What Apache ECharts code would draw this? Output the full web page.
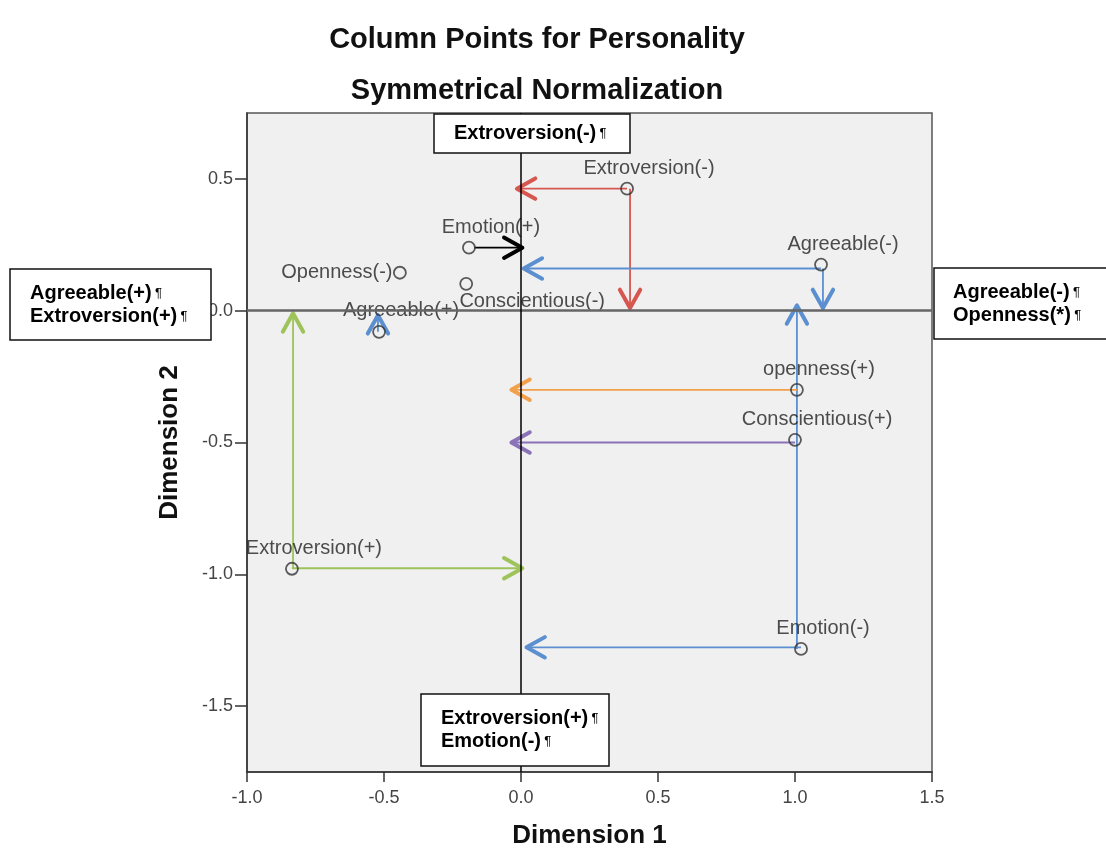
<!DOCTYPE html>
<html><head><meta charset="utf-8">
<script src="https://cdn.jsdelivr.net/npm/echarts@6/dist/echarts.min.js"></script>
<style>html,body{margin:0;padding:0;background:#fff}#c{width:1106px;height:860px}</style>
</head><body><div id="c"></div>
<script>
// ---- data ----
const pointNames = ['Extroversion(-)','Emotion(+)','Openness(-)','Conscientious(-)','Agreeable(+)','Agreeable(-)','openness(+)','Conscientious(+)','Extroversion(+)','Emotion(-)'];
const dim1 = [0.387, -0.19, -0.442, -0.20, -0.518, 1.095, 1.007, 1.0, -0.836, 1.022];
const dim2 = [0.463, 0.239, 0.144, 0.102, -0.08, 0.175, -0.30, -0.49, -0.979, -1.283];
const yTickValues = [-1.5, -1.0, -0.5, 0, 0.5];
// arrows: start (x1,y1) -> tip (x2,y2)
const arrowX1 = [0.387, 0.398, -0.17, 1.095, 1.102, 1.007, 1.022, 1.007, 1.0, -0.836, -0.832, -0.522];
const arrowY1 = [0.463, 0.463, 0.239, 0.16, 0.16, -1.283, -1.277, -0.30, -0.50, -0.977, -0.977, -0.08];
const arrowX2 = [-0.015, 0.398, 0.005, 0.01, 1.102, 1.007, 0.02, -0.035, -0.035, 0.005, -0.832, -0.522];
const arrowY2 = [0.463, 0.01, 0.239, 0.16, 0.01, 0.02, -1.277, -0.30, -0.50, -0.977, -0.01, -0.017];
const arrowColors = ['#d5574f','#d5574f','#000000','#5b8fd0','#5b8fd0','#5b8fd0','#5b8fd0','#f3a04c','#8a72b6','#9ec35a','#9ec35a','#5b8fd0'];

// ---- layout / style ----
const FONT = "'Liberation Sans', Arial, sans-serif";
const labelOffsets = { 'Openness(-)': [-63, 0], 'Conscientious(-)': [66, 18], 'Agreeable(+)': [22, -21] };
const defaultOffset = [22, -20];

const chart = echarts.init(document.getElementById('c'));

const scatterData = pointNames.map((n, i) => ({
  name: n, value: [dim1[i], dim2[i]],
  label: { offset: labelOffsets[n] || defaultOffset }
}));
const arrowData = arrowX1.map((_, i) => [arrowX1[i], arrowY1[i], arrowX2[i], arrowY2[i], i]);

function boxText(lines) {
  return lines.map(t => '{b|' + t + '} {p|¶}').join('\n');
}
const richStyle = {
  b: { fontFamily: FONT, fontWeight: 'bold', fontSize: 20, color: '#111', lineHeight: 23 },
  p: { fontFamily: FONT, fontSize: 13, color: '#4a8fe0', lineHeight: 23 }
};
function box(x, y, w, h, lines, tx) {
  return {
    type: 'group', x: x, y: y, z: 100,
    children: [
      { type: 'rect', shape: { x: 0, y: 0, width: w, height: h }, style: { fill: '#fff', stroke: '#111', lineWidth: 1.5 }, z: 100 },
      { type: 'text', x: tx, y: h / 2, z: 101, style: { text: boxText(lines), rich: richStyle, verticalAlign: 'middle', align: 'left' } }
    ]
  };
}

const option = {
  backgroundColor: '#ffffff',
  animation: false,
  grid: { left: 247, right: 174, top: 113, bottom: 88, show: true, backgroundColor: '#f0f0f0', borderColor: '#555', borderWidth: 1.5, outerBoundsMode: 'none' },
  xAxis: {
    type: 'value', min: -1, max: 1.5, interval: 0.5,
    name: 'Dimension 1', nameLocation: 'middle', nameGap: 51,
    nameTextStyle: { fontFamily: FONT, fontWeight: 'bold', fontSize: 26, color: '#111' },
    axisLine: { show: true, onZero: false, lineStyle: { color: '#333', width: 1.5 } },
    axisTick: { show: true, length: 10, lineStyle: { color: '#333', width: 1.5 } },
    axisLabel: { fontFamily: FONT, fontSize: 18, color: '#444', margin: 17, formatter: v => v.toFixed(1) },
    splitLine: { show: false }
  },
  yAxis: {
    type: 'value', min: -1.75, max: 0.75,
    name: 'Dimension 2', nameLocation: 'middle', nameGap: 64, nameRotate: 90,
    nameTextStyle: { fontFamily: FONT, fontWeight: 'bold', fontSize: 26, color: '#111' },
    axisLine: { show: true, onZero: false, lineStyle: { color: '#333', width: 1.5 } },
    axisTick: { show: true, length: 12, customValues: yTickValues, lineStyle: { color: '#333', width: 1.5 } },
    axisLabel: { fontFamily: FONT, fontSize: 18, color: '#444', margin: 14, customValues: yTickValues, formatter: v => v.toFixed(1) },
    splitLine: { show: false }
  },
  graphic: [
    { type: 'text', x: 537, y: 40, z: 100, style: { text: 'Column Points for Personality', fontFamily: FONT, fontWeight: 'bold', fontSize: 29, fill: '#111', align: 'center', verticalAlign: 'middle' } },
    { type: 'text', x: 537, y: 91, z: 100, style: { text: 'Symmetrical Normalization', fontFamily: FONT, fontWeight: 'bold', fontSize: 29, fill: '#111', align: 'center', verticalAlign: 'middle' } },
    box(434, 114, 196, 39, ['Extroversion(-)'], 20),
    box(10, 269, 201, 71, ['Agreeable(+)', 'Extroversion(+)'], 20),
    box(934, 268, 190, 71, ['Agreeable(-)', 'Openness(*)'], 19),
    box(421, 694, 188, 72, ['Extroversion(+)', 'Emotion(-)'], 20)
  ],
  series: [
    {
      type: 'line', data: [], z: 1, silent: true,
      markLine: {
        silent: true, symbol: 'none', label: { show: false },
        data: [
          { yAxis: 0, lineStyle: { color: '#666', width: 2.5, type: 'solid' } },
          { xAxis: 0, lineStyle: { color: '#000', width: 1.5, type: 'solid' } }
        ]
      }
    },
    {
      type: 'custom', z: 3, silent: true,
      data: arrowData,
      renderItem: function (params, api) {
        const p1 = api.coord([api.value(0), api.value(1)]);
        const p2 = api.coord([api.value(2), api.value(3)]);
        const color = arrowColors[api.value(4)];
        const ang = Math.atan2(p2[1] - p1[1], p2[0] - p1[0]);
        const L = 21, a = Math.PI / 6.2;
        const h1 = [p2[0] - L * Math.cos(ang - a), p2[1] - L * Math.sin(ang - a)];
        const h2 = [p2[0] - L * Math.cos(ang + a), p2[1] - L * Math.sin(ang + a)];
        return {
          type: 'group', children: [
            { type: 'line', shape: { x1: p1[0], y1: p1[1], x2: p2[0], y2: p2[1] }, style: { stroke: color, lineWidth: 1.8 } },
            { type: 'polyline', shape: { points: [h1, p2, h2] }, style: { stroke: color, fill: null, lineWidth: 4, lineJoin: 'round', lineCap: 'round' } }
          ]
        };
      }
    },
    {
      type: 'scatter', z: 4, silent: true,
      symbol: 'circle', symbolSize: 12,
      itemStyle: { color: 'rgba(240,240,240,0)', borderColor: '#333', borderWidth: 1.8 },
      label: { show: true, position: 'inside', formatter: '{b}', fontFamily: FONT, fontSize: 20, color: '#222' },
      data: scatterData
    }
  ]
};
chart.setOption(option);
</script>
</body></html>
